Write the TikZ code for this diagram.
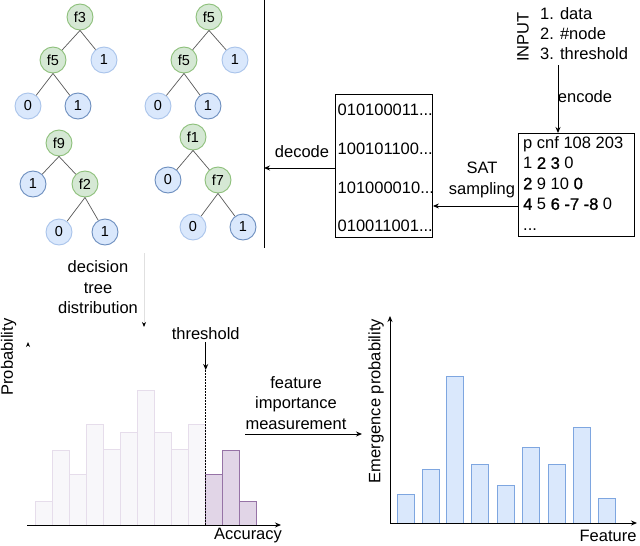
\documentclass[tikz,border=0pt]{standalone}
\usepackage{fontspec}
\setmainfont{Liberation Sans}
\newfontface\semibface{Liberation Sans}[FakeBold=1.2]
\usetikzlibrary{arrows.meta}
\definecolor{gfill}{HTML}{D5E8D4}
\definecolor{gstroke}{HTML}{8DC07A}
\definecolor{bfill}{HTML}{DAE8FC}
\definecolor{bstrokeD}{HTML}{6C8EBF}
\definecolor{bstrokeL}{HTML}{A9C4EB}
\definecolor{lbarfill}{HTML}{F8F7FA}
\definecolor{lbarstroke}{HTML}{E6DDEB}
\definecolor{pbarfill}{HTML}{E1D5E7}
\definecolor{pbarstroke}{HTML}{9673A6}
\definecolor{rbarfill}{HTML}{DAE8FC}
\definecolor{rbarstroke}{HTML}{7EA6E0}
\newcommand\bigtxt{\fontsize{16.5}{20.5}\selectfont}
\newcommand\semibtxt[1]{{\semibface #1}}
\tikzset{
  tnode/.style={circle, minimum size=26pt, inner sep=0pt, line width=0.9pt, font=\fontsize{14.5}{14.5}\selectfont},
  inner/.style={tnode, draw=gstroke, fill=gfill},
  leafD/.style={tnode, draw=bstrokeD, fill=bfill},
  leafL/.style={tnode, draw=bstrokeL, fill=bfill},
  tedge/.style={draw=black!65, line width=0.7pt},
  txt/.style={inner sep=0pt, font=\bigtxt},
  ltxt/.style={txt, anchor=west, text height=12pt, text depth=3.5pt},
  arr/.style={line width=0.9pt, -{Stealth[length=6pt,width=5pt]}},
  box/.style={draw, line width=0.9pt, anchor=north west, inner sep=0pt},
  lbar/.style={draw=lbarstroke, fill=lbarfill, line width=0.9pt},
  pbar/.style={draw=pbarstroke, fill=pbarfill, line width=0.9pt},
  rbar/.style={draw=rbarstroke, fill=rbarfill, line width=0.9pt},
}
\begin{document}
\begin{tikzpicture}[x=1pt,y=-1pt]
\useasboundingbox[fill=white] (0,0) rectangle (640,546);

% ---------- trees ----------
\node[inner] (t1r) at (80,17) {f3};
\node[inner] (t1a) at (53,60) {f5};
\node[leafL] (t1b) at (104,60) {1};
\node[leafL] (t1c) at (28,106) {0};
\node[leafD] (t1d) at (78,106) {1};
\draw[tedge] (t1r.south) -- (t1a); \draw[tedge] (t1r.south) -- (t1b);
\draw[tedge] (t1a.south) -- (t1c); \draw[tedge] (t1a.south) -- (t1d);

\node[inner] (t2r) at (209,17) {f5};
\node[inner] (t2a) at (184,60) {f5};
\node[leafL] (t2b) at (235,60) {1};
\node[leafL] (t2c) at (158,106) {0};
\node[leafD] (t2d) at (208,106) {1};
\draw[tedge] (t2r.south) -- (t2a); \draw[tedge] (t2r.south) -- (t2b);
\draw[tedge] (t2a.south) -- (t2c); \draw[tedge] (t2a.south) -- (t2d);

\node[inner] (t3r) at (59,143) {f9};
\node[leafD] (t3a) at (33,184) {1};
\node[inner] (t3b) at (85,184) {f2};
\node[leafL] (t3c) at (59,232) {0};
\node[leafD] (t3d) at (105,232) {1};
\draw[tedge] (t3r.south) -- (t3a); \draw[tedge] (t3r.south) -- (t3b);
\draw[tedge] (t3b.south) -- (t3c); \draw[tedge] (t3b.south) -- (t3d);

\node[inner] (t4r) at (193,137) {f1};
\node[leafD] (t4a) at (168,180) {0};
\node[inner] (t4b) at (218,180) {f7};
\node[leafL] (t4c) at (193,227) {0};
\node[leafD] (t4d) at (243,227) {1};
\draw[tedge] (t4r.south) -- (t4a); \draw[tedge] (t4r.south) -- (t4b);
\draw[tedge] (t4b.south) -- (t4c); \draw[tedge] (t4b.south) -- (t4d);

% separator
\coordinate (sepT) at (264,0);
\coordinate (sepB) at (264,248);
\draw[line width=0.9pt] (sepT) -- (sepB);

% ---------- input ----------
\node[txt, rotate=90] (inp) at (523,37) {INPUT};
\node[ltxt] (in1) at (540,15) {1. data};
\node[ltxt] (in2) at (540,35) {2. \#node};
\node[ltxt] (in3) at (540,55) {3. threshold};

% cnf box
\node[box, minimum width=116pt, minimum height=103pt] (cnf) at (518,133) {};
\node[ltxt] (c1) at (523,144) {p cnf 108 203};
\node[ltxt] (c2) at (523,164.5) {1 \semibtxt{2} \semibtxt{3} 0};
\node[ltxt] (c3) at (523,185) {\semibtxt{2} 9 10 \semibtxt{0}};
\node[ltxt] (c4) at (523,205.5) {\semibtxt{4} 5 \semibtxt{6} \semibtxt{-7} \semibtxt{-8} 0};
\node[ltxt] (c5) at (523,226) {...};

\coordinate (encS) at (558,65);
\draw[arr] (encS) -- (encS |- cnf.north);
\node[txt] (enc) at (585,97) {encode};

% binary box
\node[box, minimum width=97pt, minimum height=143pt] (bin) at (335,94) {};
\node[ltxt] (b1) at (337.5,111) {010100011...};
\node[ltxt] (b2) at (337.5,150) {100101100...};
\node[ltxt] (b3) at (337.5,189) {101000010...};
\node[ltxt] (b4) at (337.5,227) {010011001...};

\coordinate (satY) at (0,206);
\draw[arr] (cnf.west |- satY) -- (bin.east |- satY);
\node[txt, align=center] (sat) at (482,180) {SAT\\sampling};

\coordinate (decY) at (0,168);
\draw[arr] (bin.west |- decY) -- (sepB |- decY);
\node[txt] (dec) at (302,152) {decode};

% ---------- left chart ----------
\node[txt, align=center] (dtd) at (98,287.5) {decision\\tree\\distribution};
\coordinate (dtS) at (144,253);
\coordinate (dtE) at (144,327);
\draw[black!12, line width=0.9pt, -{Stealth[length=5pt,width=4pt,black]}] (dtS) -- (dtE);

\node[txt, rotate=90] (prob) at (8.5,357) {Probability};
\coordinate (lO) at (27,525);
\coordinate (lYT) at (28,342);
\coordinate (lYB) at (28,522);
\draw[white, line width=0.9pt, -{Stealth[length=5pt,width=4pt,black]}] (lYB) -- (lYT);

\foreach \i/\t in {0/501.7,1/450.7,2/474.3,3/424,4/449.3,5/432.7,6/390.7,7/432.7,8/449.3,9/424}
  \draw[lbar] ({35.7+17*\i},525) rectangle ({52.7+17*\i},\t);
\foreach \i/\t in {10/474.3,11/450.7,12/501.7}
  \draw[pbar] ({35.7+17*\i},525) rectangle ({52.7+17*\i},\t);

\coordinate (lXE) at (281,525);
\draw[arr] (lO) -- (lXE);
\node[txt] (acc) at (248,536) {Accuracy};

\node[txt] (thr) at (205.7,334) {threshold};
\coordinate (thrT) at (205.7,342);
\coordinate (thrM) at (205.7,370);
\coordinate (thrB) at (205.7,525);
\draw[arr] (thrT) -- (thrM);
\draw[line width=1pt, dash pattern=on 1.5pt off 1.5pt] (thrM) -- (thrB);

% ---------- feature importance ----------
\node[txt, align=center] (fim) at (296,403) {feature\\importance\\measurement};
\coordinate (fimS) at (245,434);
\coordinate (fimE) at (362,434);
\draw[arr] (fimS) -- (fimE);

% ---------- right chart ----------
\coordinate (rO) at (390,523);
\coordinate (rYT) at (390,316);
\coordinate (rXE) at (637,523);
\foreach \x/\t in {397.3/494.7,422/469,446.7/376.3,471.7/464.3,497.3/485.7,522.7/447.7,548.3/464.3,573.3/427,598.7/498.7}
  \draw[rbar] (\x,523) rectangle ({\x+17},\t);
\draw[arr] (rO) -- (rYT);
\draw[arr] (rO) -- (rXE);
\node[txt, rotate=90] (emp) at (376,401) {Emergence probability};
\node[txt] (feat) at (608,536) {Feature};
\end{tikzpicture}
\end{document}
